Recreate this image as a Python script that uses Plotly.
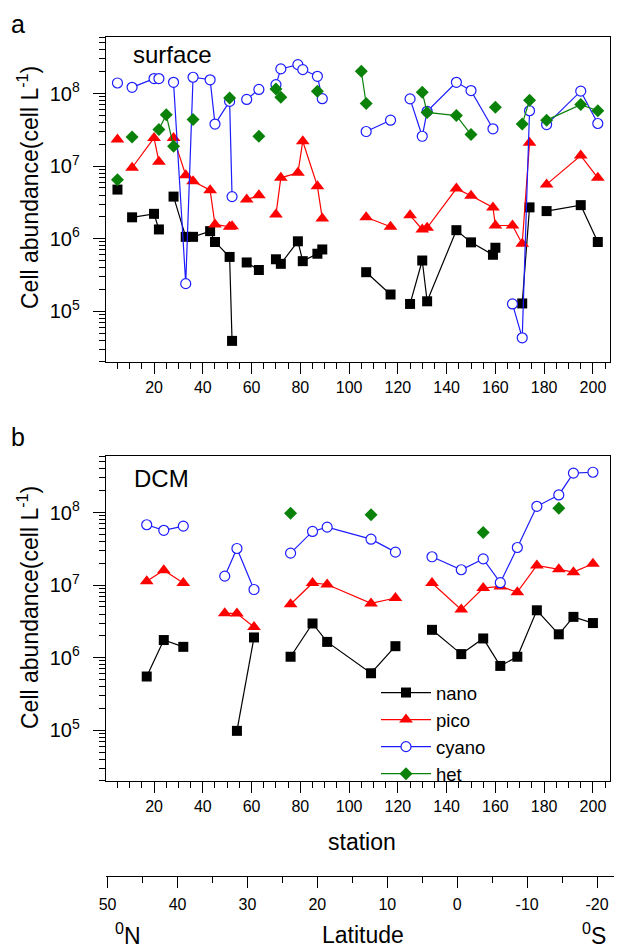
import plotly.graph_objects as go

# ---------------- panel a : surface ----------------
nano_a_st = [5, None, 11, 20, 22, None, 28, 33, 36, 43, 45, 51, 52, None, 58, 63, None, 70, 72, 79, 81, 87, 89, None,
             107, 117, None, 125, 130, 132, 144, 150, 159, 160, None, 171, 174, None, 181, 195, 202]
nano_a = [4.75e6, None, 1.97e6, 2.2e6, 1.34e6, None, 3.8e6, 1.06e6, 1.06e6, 1.27e6, 9.0e5, 5.6e5, 3.9e4, None,
          4.7e5, 3.7e5, None, 5.2e5, 4.5e5, 9.2e5, 4.9e5, 6.2e5, 7.1e5, None,
          3.45e5, 1.7e5, None, 1.26e5, 5.0e5, 1.37e5, 1.31e6, 8.9e5, 6.0e5, 7.5e5, None, 1.28e5, 2.7e6, None,
          2.4e6, 2.9e6, 9.0e5]

pico_a_st = [5, None, 11, 20, 22, None, 28, 33, 36, 43, 45, 51, 52, None, 58, 63, None, 70, 72, 79, 81, 87, 89, None,
             107, 117, None, 125, 130, 132, 144, 150, 159, 160, 167, 171, 174, None, 181, 195, 202]
pico_a = [2.32e7, None, 9.5e6, 2.45e7, 1.15e7, None, 2.45e7, 7.5e6, 6.2e6, 4.65e6, 1.57e6, 1.46e6, 1.48e6, None,
          3.46e6, 3.97e6, None, 2.15e6, 6.9e6, 8.1e6, 2.2e7, 5.3e6, 1.9e6, None,
          1.97e6, 1.46e6, None, 2.1e6, 1.34e6, 1.41e6, 4.9e6, 3.9e6, 2.7e6, 1.52e6, 1.52e6, 8.5e5, 2.1e7, None,
          5.6e6, 1.4e7, 6.9e6]

cyano_a_st = [5, None, 11, 20, 22, None, 28, 33, 36, 43, 45, 51, 52, None, 58, 63, None, 70, 72, 79, 81, 87, 89, None,
              107, 117, None, 125, 130, 132, 144, 150, 159, None, 167, 171, 174, None, 181, 195, 202]
cyano_a = [1.4e8, None, 1.22e8, 1.61e8, 1.61e8, None, 1.43e8, 2.4e5, 1.68e8, 1.55e8, 3.8e7, 7.8e7, 3.8e6, None,
           8.3e7, 1.14e8, None, 1.33e8, 2.19e8, 2.51e8, 2.14e8, 1.73e8, 8.5e7, None,
           3.0e7, 4.3e7, None, 8.45e7, 2.58e7, 5.7e7, 1.43e8, 1.1e8, 3.27e7, None, 1.26e5, 4.3e4, 5.8e7, None,
           3.74e7, 1.08e8, 3.87e7]

het_a_st = [5, None, 11, None, 22, 25, 28, None, 36, None, 51, None, 63, None, 70, 72, None, 87, None, 105, 107, None,
            130, 132, 144, 150, None, 160, None, 171, 174, None, 181, 195, 202]
het_a = [6.5e6, None, 2.53e7, None, 3.2e7, 5.1e7, 1.88e7, None, 4.4e7, None, 8.7e7, None, 2.58e7, None, 1.16e8, 8.9e7,
         None, 1.08e8, None, 2.03e8, 7.3e7, None, 1.04e8, 5.5e7, 4.98e7, 2.72e7, None, 6.5e7, None, 3.8e7, 8.1e7, None,
         4.3e7, 7.05e7, 5.8e7]

# ---------------- panel b : DCM ----------------
nano_b_st = [17, 24, 32, None, 54, 61, None, 76, 85, 91, 109, 119, None, 134, 146, 155, 162, 169, 177, 186, 192, 200]
nano_b = [5.5e5, 1.75e6, 1.41e6, None, 9.8e4, 1.9e6, None, 1.03e6, 2.96e6, 1.65e6, 6.1e5, 1.44e6, None,
          2.42e6, 1.12e6, 1.84e6, 7.7e5, 1.03e6, 4.5e6, 2.1e6, 3.65e6, 3.0e6]

pico_b_st = [17, 24, 32, None, 49, 54, 61, None, 76, 85, 91, 109, 119, None, 134, 146, 155, 162, 169, 177, 186, 192, 200]
pico_b = [1.13e7, 1.6e7, 1.07e7, None, 4.1e6, 4.06e6, 2.65e6, None, 5.45e6, 1.07e7, 1.02e7, 5.6e6, 6.65e6, None,
          1.07e7, 4.6e6, 9.1e6, 9.6e6, 8.0e6, 1.87e7, 1.65e7, 1.51e7, 1.97e7]

cyano_b_st = pico_b_st
cyano_b = [6.8e7, 5.7e7, 6.5e7, None, 1.33e7, 3.2e7, 8.7e6, None, 2.76e7, 5.5e7, 6.3e7, 4.3e7, 2.85e7, None,
           2.46e7, 1.63e7, 2.3e7, 1.08e7, 3.3e7, 1.22e8, 1.75e8, 3.5e8, 3.6e8]

het_b_st = [76, None, 109, None, 155, None, 186]
het_b = [9.8e7, None, 9.3e7, None, 5.3e7, None, 1.15e8]

station_ticks = [20, 40, 60, 80, 100, 120, 140, 160, 180, 200]
lat_ticks = [50, 40, 30, 20, 10, 0, -10, -20]
lat_labels = ["50", "40", "30", "20", "10", "0", "-10", "-20"]

for a, b in [(nano_a_st, nano_a), (pico_a_st, pico_a), (cyano_a_st, cyano_a), (het_a_st, het_a),
             (nano_b_st, nano_b), (pico_b_st, pico_b), (cyano_b_st, cyano_b), (het_b_st, het_b)]:
    assert len(a) == len(b)

FONT = "Liberation Sans, Arial, sans-serif"

styles = {
    "nano": dict(color="#000000", marker=dict(symbol="square", size=10, color="#000000")),
    "pico": dict(color="#ff0000", marker=dict(symbol="triangle-up", size=12, color="#ff0000")),
    "cyano": dict(color="#1c1cff", marker=dict(symbol="circle", size=10, color="white",
                                              line=dict(color="#1c1cff", width=1.2))),
    "het": dict(color="#0a820a", marker=dict(symbol="diamond", size=10, color="#0a820a")),
}

fig = go.Figure()
series_a = [("nano", nano_a_st, nano_a), ("pico", pico_a_st, pico_a), ("cyano", cyano_a_st, cyano_a),
            ("het", het_a_st, het_a)]
series_b = [("nano", nano_b_st, nano_b), ("pico", pico_b_st, pico_b), ("cyano", cyano_b_st, cyano_b),
            ("het", het_b_st, het_b)]

for name, xs, ys in series_a:
    st = styles[name]
    fig.add_trace(go.Scatter(x=xs, y=ys, mode="lines+markers", name=name, xaxis="x", yaxis="y",
                             line=dict(color=st["color"], width=1.2), marker=st["marker"],
                             connectgaps=False, showlegend=False))
for name, xs, ys in series_b:
    st = styles[name]
    fig.add_trace(go.Scatter(x=xs, y=ys, mode="lines+markers", name=name, xaxis="x2", yaxis="y2",
                             line=dict(color=st["color"], width=1.2), marker=st["marker"],
                             connectgaps=False, showlegend=True))
# latitude axis holder
fig.add_trace(go.Scatter(x=[], y=[], xaxis="x3", yaxis="y3", showlegend=False, hoverinfo="skip"))

# page body has an 8px margin: the figure is drawn 8px smaller and positions are given in window pixels
OFF = 8
W, H = 622 - OFF, 949 - OFF
PL, PR, PT, PB = 106, 618, 37, 876          # plot-area box in window pixels
L, T = PL - OFF, PT - OFF
R, B = W - (PR - OFF), H - (PB - OFF)
PW, PH = PR - PL, PB - PT


def px(x):
    return (x - PL) / PW


def py(y):
    return (PB - y) / PH


xdom = [0, px(610)]

xcommon = dict(range=[0.3, 207], tickmode="array", tickvals=station_ticks, ticks="outside", ticklen=11,
               tickwidth=1, tickcolor="black", showline=True, linecolor="black", linewidth=1, mirror=True,
               showgrid=False, zeroline=False, tickfont=dict(size=16, family=FONT, color="black"),
               minor=dict(tickmode="linear", tick0=0, dtick=5, ticks="outside", ticklen=6, tickcolor="black",
                          showgrid=False),
               ticklabelstandoff=0, domain=xdom)
ycommon = dict(type="log", range=[4.30, 8.78], dtick=1, exponentformat="power", showexponent="all",
               ticks="outside", ticklen=12, tickwidth=1, tickcolor="black", showline=True, linecolor="black",
               linewidth=1, mirror=True, showgrid=False, zeroline=False,
               tickfont=dict(size=16, family=FONT, color="black"),
               minor=dict(ticks="outside", ticklen=6, tickcolor="black", dtick="D1", showgrid=False),
               ticklabelstandoff=10)

fig.update_layout(
    width=W, height=H, margin=dict(l=L, r=R, t=T, b=B, autoexpand=False),
    paper_bgcolor="white", plot_bgcolor="white",
    font=dict(family=FONT, color="black"),
    xaxis=dict(xcommon, anchor="y"),
    yaxis=dict(ycommon, anchor="x", domain=[py(362), py(37)]),
    xaxis2=dict(xcommon, anchor="y2"),
    yaxis2=dict(ycommon, anchor="x2", domain=[py(781), py(456)]),
    xaxis3=dict(range=[50.23, -23.0], domain=[0, 1], anchor="y3", tickmode="array", tickvals=lat_ticks,
                ticktext=lat_labels, ticks="outside", ticklen=11, tickcolor="black", showline=True,
                linecolor="black", linewidth=1, showgrid=False, zeroline=False,
                tickfont=dict(size=16, family=FONT, color="black"),
                minor=dict(tickmode="linear", tick0=0, dtick=5, ticks="outside", ticklen=6, tickcolor="black",
                           showgrid=False),
                ticklabelstandoff=3),
    yaxis3=dict(domain=[0, 0.001], anchor="x3", visible=False, range=[0, 1]),
    showlegend=True,
    legend=dict(x=px(376), y=py(674), xanchor="left", yanchor="top", bgcolor="rgba(0,0,0,0)",
                font=dict(size=18.5, family=FONT, color="black"), itemwidth=50, tracegroupgap=0),
)

ann = [
    dict(text="a", x=px(18), y=py(8.5), size=25, ya="top"),
    dict(text="b", x=px(18), y=py(437), size=25, ya="middle"),
    dict(text="surface", x=px(172), y=py(55), size=24, ya="middle"),
    dict(text="DCM", x=px(161.5), y=py(478.5), size=24, ya="middle"),
    dict(text="station", x=px(362), y=py(842), size=23, ya="middle"),
    dict(text="Latitude", x=px(363), y=py(935), size=23, ya="middle"),
    dict(text="<sup>0</sup>N", x=px(128), y=py(934), size=23, ya="middle"),
    dict(text="<sup>0</sup>S", x=px(594), y=py(934), size=23, ya="middle"),
]
for a in ann:
    fig.add_annotation(text=a["text"], x=a["x"], y=a["y"], xref="paper", yref="paper", showarrow=False,
                       xanchor="center", yanchor=a["ya"], font=dict(size=a["size"], family=FONT, color="black"))
for yc in (188, 608):
    fig.add_annotation(text="Cell abundance(cell L<sup>-1</sup>)", x=px(28), y=py(yc), xref="paper", yref="paper",
                       showarrow=False, textangle=-90, xanchor="center", yanchor="middle",
                       font=dict(size=23, family=FONT, color="black"))

fig.write_html("out.html")
